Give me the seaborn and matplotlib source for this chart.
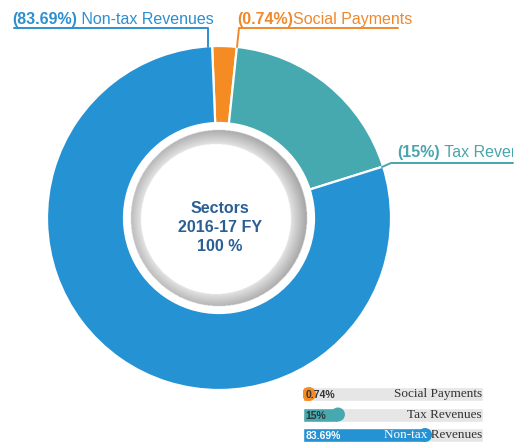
"""
Sectors 2016-17 FY - donut chart with share legend bars
"""
import numpy as np
import matplotlib
matplotlib.use("Agg")
import matplotlib.pyplot as plt
import seaborn as sns
from matplotlib.patches import Ellipse
from matplotlib.transforms import Bbox, TransformedBbox

# ── data ───────────────────────────────────────────────────────────────────────
sectors      = ["Social Payments", "Tax Revenues", "Non-tax Revenues"]
label_pct    = ["0.74%", "15%", "83.69%"]          # printed percentages
arc_share    = [2.3, 18.5, 79.2]                   # share of the ring as drawn
bar_fill     = [7.2, 23.3, 71.7]                   # legend bar fill, % of track
colors       = ["#F58B23", "#47A9B0", "#2592D4"]
text_colors  = ["#F0882C", "#4BA5AC", "#2D8ED0"]
center_lines = ["Sectors", "2016-17 FY", "100 %"]

W, H = 528, 443
sns.set_theme(style="white")
plt.rcParams["font.family"] = ["Liberation Sans", "DejaVu Sans"]

fig = plt.figure(figsize=(W / 100, H / 100), dpi=100)
ax = fig.add_axes([0, 0, 1, 1])

# ── donut ──────────────────────────────────────────────────────────────────────
cx, cy, R, hole = 219, 218, 172, 95
ax.pie(arc_share, colors=colors, center=(cx, cy), radius=R,
       startangle=-92.3, counterclock=True,
       wedgeprops=dict(width=R - hole, edgecolor="white", linewidth=1.6))

# grey bevel ring inside the hole (radial shading, dark outside -> light inside)
r_out, r_in, icx, icy = 88, 75, cx - 3, cy + 1
gx, gy = np.meshgrid(np.arange(cx - 92, cx + 92, 0.5) + 0.25,
                     np.arange(cy - 92, cy + 92, 0.5) + 0.25)
d_out = np.hypot(gx - cx, gy - cy)
d_in = np.hypot(gx - icx, gy - icy)
t = np.clip((d_in - r_in) / (r_out - r_in + 2), 0, 1)
g = 0.89 - 0.23 * t
rgba = np.dstack([g, g, g, ((d_out <= r_out) & (d_in > r_in)).astype(float)])
ax.imshow(rgba, extent=(cx - 92, cx + 92, cy + 92, cy - 92), origin="upper",
          interpolation="bilinear", zorder=3)

ax.set_xlim(0, W)
ax.set_ylim(H, 0)
ax.set_aspect("equal")
ax.axis("off")

for i, line in enumerate(center_lines):
    ax.text(220, 208 + 19 * i, line, ha="center", va="center", fontsize=11.5,
            fontweight="bold", color="#2B5F94", zorder=4)

# ── callout labels ────────────────────────────────────────────────────────────
renderer = fig.canvas.get_renderer()


def callout(x, y, pct, name, color, clip_x=None):
    t1 = ax.text(x, y, f"({pct})", fontsize=11.5, fontweight="bold",
                 color=color, va="baseline")
    ext = t1.get_window_extent(renderer)
    t2 = ax.text(ext.x1, y, name, fontsize=11.5, color=color, va="baseline")
    if clip_x is not None:
        box = TransformedBbox(Bbox.from_extents(0, 0, clip_x, H), ax.transData)
        for tx in (t1, t2):
            tx.set_clip_box(box)
            tx.set_clip_on(True)


callout(12, 24, label_pct[2], " " + sectors[2], text_colors[2])
callout(237, 24, label_pct[0], sectors[0], text_colors[0])
callout(397, 157, label_pct[1], " " + sectors[1], text_colors[1], clip_x=513)

ax.plot([14, 208, 208], [28, 28, 47], color=text_colors[2], lw=1.4)
ax.plot([398, 239, 237], [28, 28, 47], color=text_colors[0], lw=1.4)
ax.plot([382, 391, 513], [167, 163, 163], color=text_colors[1], lw=1.4)

# ── legend bars ───────────────────────────────────────────────────────────────
row_px, bar_px, cap_px = 20.5, 14, 7
lx0, lx1, top = 303, 483, 394 - row_px / 2
lax = fig.add_axes([lx0 / W, (H - top - 3 * row_px) / H,
                    (lx1 - lx0) / W, 3 * row_px / H])
bw = bar_px / row_px
sns.barplot(x=[100] * 3, y=sectors, color="#E6E6E6", width=bw,
            saturation=1, ax=lax, orient="h")
cap_x = cap_px / (lx1 - lx0) * 100
sns.barplot(x=[f - cap_x for f in bar_fill], y=sectors, hue=sectors,
            palette=colors, width=bw, saturation=1, legend=False,
            ax=lax, orient="h")
for i, (f, c) in enumerate(zip(bar_fill, colors)):
    lax.add_patch(Ellipse((f - cap_x, i), 2 * cap_x, bw, facecolor=c,
                          edgecolor="none"))
lax.set_xlim(0, 100)
lax.set_ylim(2.5, -0.5)
lax.axis("off")

for i, (pct, name, f) in enumerate(zip(label_pct, sectors, bar_fill)):
    pc = "white" if i == 2 else "#333333"
    lax.text(1.5, i + 0.05, pct, fontsize=7.5, fontweight="bold", color=pc,
             va="center", ha="left")
    dark = lax.text(99.5, i, name, fontsize=9.5, family="Liberation Serif",
                    color="#333333", va="center", ha="right")
    if i == 2:
        white = lax.text(99.5, i, name, fontsize=9.5, family="Liberation Serif",
                         color="white", va="center", ha="right")
        white.set_clip_box(TransformedBbox(Bbox.from_extents(0, -0.5, f, 2.5),
                                           lax.transData))
        white.set_clip_on(True)
        dark.set_clip_box(TransformedBbox(Bbox.from_extents(f, -0.5, 100, 2.5),
                                          lax.transData))
        dark.set_clip_on(True)

fig.savefig("out.png", dpi=100)
print("Saved: out.png")
